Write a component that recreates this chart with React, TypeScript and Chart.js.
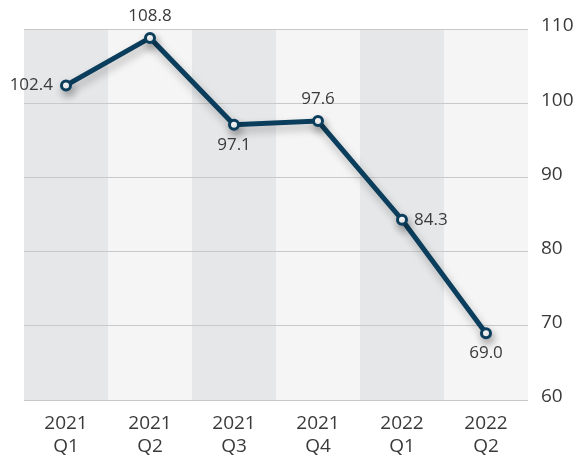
import React, { useEffect, useRef } from "react";
import { Chart, registerables } from "chart.js";

Chart.register(...registerables);

const years = ["2021", "2021", "2021", "2021", "2022", "2022"];
const quarters = ["Q1", "Q2", "Q3", "Q4", "Q1", "Q2"];
const values = [102.4, 108.8, 97.1, 97.6, 84.3, 69.0];
const labelPlacement = ["left", "top", "bottom", "top", "right", "bottom"];
const yTicks = [60, 70, 80, 90, 100, 110];

const LINE = "#0b3d5c";
const TEXT = "#3a3a3a";
const FONT = "'Open Sans', 'Noto Sans', sans-serif";

const bandsPlugin = {
  id: "bands",
  beforeDraw(chart: any) {
    const { ctx, chartArea, scales } = chart;
    const x = scales.x;
    const n = values.length;
    const w = (chartArea.right - chartArea.left) / n;
    ctx.save();
    for (let i = 0; i < n; i++) {
      const cx = x.getPixelForValue(i);
      ctx.fillStyle = i % 2 === 0 ? "#e6e7e9" : "#f5f5f5";
      ctx.fillRect(cx - w / 2, chartArea.top, w, chartArea.bottom - chartArea.top);
    }
    ctx.restore();
  },
};

const shadowPlugin = {
  id: "shadow",
  beforeDatasetDraw(chart: any) {
    const ctx = chart.ctx;
    ctx.save();
    ctx.shadowColor = "rgba(0,0,0,0.28)";
    ctx.shadowBlur = 9;
    ctx.shadowOffsetX = 2;
    ctx.shadowOffsetY = 5;
  },
  afterDatasetDraw(chart: any) {
    chart.ctx.restore();
  },
};

const labelsPlugin = {
  id: "valueLabels",
  afterDatasetsDraw(chart: any) {
    const { ctx } = chart;
    const meta = chart.getDatasetMeta(0);
    ctx.save();
    ctx.fillStyle = TEXT;
    ctx.font = `400 17px ${FONT}`;
    meta.data.forEach((pt: any, i: number) => {
      const txt = values[i].toFixed(1);
      const p = labelPlacement[i];
      let x = pt.x;
      let y = pt.y;
      ctx.textBaseline = "middle";
      if (p === "left") {
        ctx.textAlign = "right";
        x -= 13;
      } else if (p === "right") {
        ctx.textAlign = "left";
        x += 12;
      } else if (p === "top") {
        ctx.textAlign = "center";
        y -= 22;
      } else {
        ctx.textAlign = "center";
        y += 20;
      }
      ctx.fillText(txt, x, y);
    });
    ctx.restore();
  },
};

export default function App() {
  const ref = useRef<HTMLCanvasElement>(null);

  useEffect(() => {
    document.body.style.margin = "0";
    const canvas = ref.current;
    if (!canvas) return;
    const chart = new Chart(canvas, {
      type: "line",
      data: {
        labels: years.map((y, i) => [y, quarters[i]]),
        datasets: [
          {
            data: values,
            borderColor: LINE,
            borderWidth: 5,
            pointRadius: 4.5,
            pointBorderWidth: 3,
            pointBackgroundColor: "#ffffff",
            pointBorderColor: LINE,
            tension: 0,
          },
        ],
      },
      options: {
        animation: false,
        responsive: false,
        layout: { padding: { left: 24, top: 29, right: 0, bottom: 0 } },
        plugins: {
          legend: { display: false },
          tooltip: { enabled: false },
        },
        scales: {
          x: {
            offset: true,
            grid: { display: false },
            border: { display: false },
            ticks: {
              color: TEXT,
              font: { family: FONT, size: 19, weight: "400", lineHeight: 1.2 },
              padding: 4,
              maxRotation: 0,
            },
            afterFit(scale: any) {
              scale.height = 55;
            },
          },
          y: {
            position: "right",
            min: yTicks[0],
            max: yTicks[yTicks.length - 1],
            afterBuildTicks(scale: any) {
              scale.ticks = yTicks.map((v) => ({ value: v }));
            },
            grid: { color: "#c9c9c9", lineWidth: 1, drawTicks: false },
            border: { display: false },
            ticks: {
              color: TEXT,
              font: { family: FONT, size: 19, weight: "400" },
              padding: 13,
              labelOffset: -3,
            },
            afterFit(scale: any) {
              scale.width = 59;
            },
          },
        },
      },
      plugins: [bandsPlugin, shadowPlugin, labelsPlugin],
    } as any);
    return () => chart.destroy();
  }, []);

  return (
    <div style={{ width: 587, height: 455 }}>
      <canvas ref={ref} width={587} height={455} />
    </div>
  );
}
